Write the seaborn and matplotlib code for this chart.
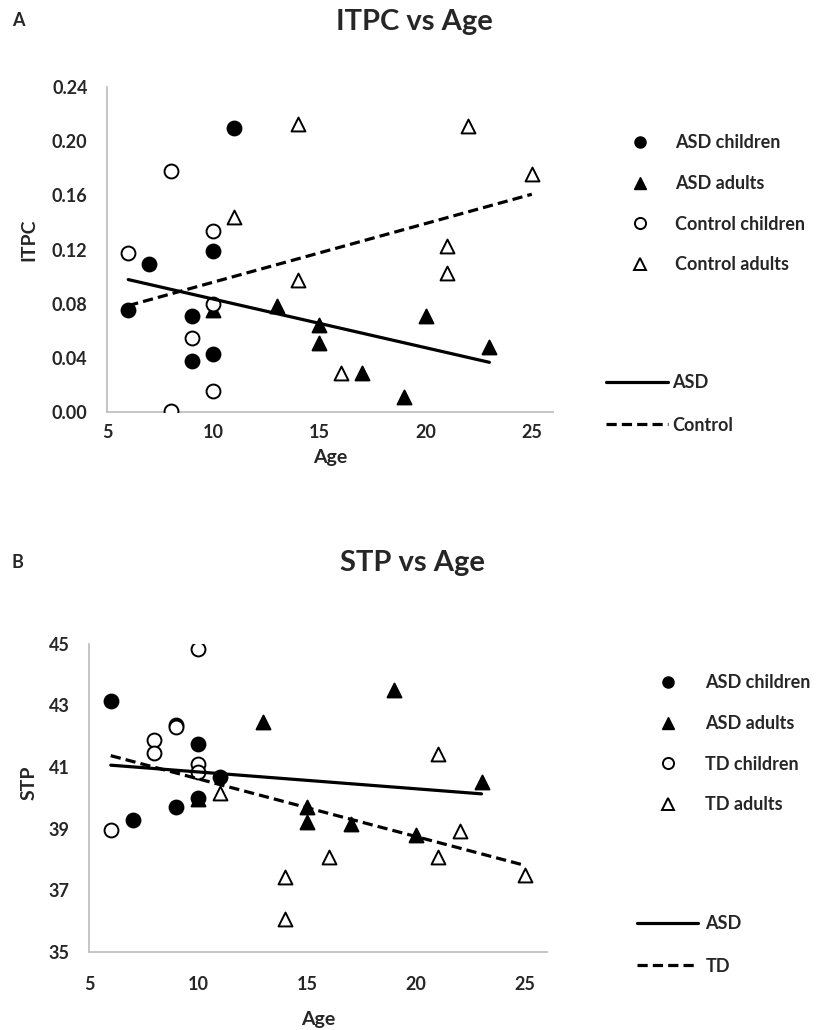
import numpy as np
import pandas as pd
import seaborn as sns
import matplotlib.pyplot as plt
from matplotlib.lines import Line2D

# ===============================
# DATA
# ===============================
# panel A - ITPC
itpc_asd_child_age = [6, 7, 9, 9, 10, 10, 11]
itpc_asd_child = [0.075, 0.109, 0.071, 0.038, 0.119, 0.043, 0.210]
itpc_asd_adult_age = [10, 13, 15, 15, 17, 19, 20, 23]
itpc_asd_adult = [0.0755, 0.078, 0.0644, 0.051, 0.029, 0.0113, 0.071, 0.048]
itpc_ctl_child_age = [6, 8, 8, 9, 10, 10, 10]
itpc_ctl_child = [0.1175, 0.178, 0.001, 0.055, 0.1335, 0.080, 0.0156]
itpc_ctl_adult_age = [11, 14, 14, 16, 21, 21, 22, 25]
itpc_ctl_adult = [0.144, 0.2126, 0.0978, 0.029, 0.1225, 0.1027, 0.211, 0.176]

# panel B - STP
stp_asd_child_age = [6, 7, 9, 9, 10, 10, 11]
stp_asd_child = [43.14, 39.28, 42.36, 39.69, 41.74, 40.0, 40.68]
stp_asd_adult_age = [10, 13, 15, 15, 17, 19, 20, 23]
stp_asd_adult = [39.95, 42.47, 39.69, 39.22, 39.15, 43.49, 38.79, 40.52]
stp_td_child_age = [6, 8, 8, 9, 10, 10, 10]
stp_td_child = [38.95, 41.87, 41.44, 42.3, 44.81, 41.08, 40.84]
stp_td_adult_age = [11, 14, 14, 16, 21, 21, 22, 25]
stp_td_adult = [40.16, 37.44, 36.07, 38.07, 41.41, 38.07, 38.93, 37.50]

itpc_labels = ["ASD children", "ASD adults", "Control children", "Control adults"]
stp_labels = ["ASD children", "ASD adults", "TD children", "TD adults"]

itpc_ticks = [0.00, 0.04, 0.08, 0.12, 0.16, 0.20, 0.24]
stp_ticks = [35, 37, 39, 41, 43, 45]
age_ticks = [5, 10, 15, 20, 25]

# ===============================
# STYLE
# ===============================
sns.set_theme(style="white")
plt.rcParams["font.family"] = ["Lato", "DejaVu Sans"]
plt.rcParams["font.weight"] = "bold"

DASH = (0, (3.2, 1.6))
GRAY = "#c0c0c0"
FS = 13

fig = plt.figure(figsize=(8.2, 10.3), dpi=100)
ax_a = fig.add_axes([0.1305, 0.600, 0.544, 0.3155])
ax_b = fig.add_axes([0.1085, 0.0757, 0.5585, 0.2995])


def draw_panel(ax, groups, fit_groups, ylim, yticks, yfmt):
    # groups: list of (age, value, marker, facecolor)
    for age, val, mk, fc in groups:
        sns.scatterplot(x=age, y=val, ax=ax, marker=mk, s=100,
                        facecolor=fc, edgecolor="black", linewidth=1.4,
                        zorder=3)
    for age, val, ls in fit_groups:
        sns.regplot(x=np.array(age, dtype=float), y=np.array(val, dtype=float),
                    ax=ax, scatter=False, ci=None, truncate=True, color="black",
                    line_kws=dict(lw=2.3, ls=ls, zorder=4))
    ax.set_xlim(5, 26)
    ax.set_ylim(*ylim)
    ax.set_xticks(age_ticks)
    ax.set_yticks(yticks)
    ax.set_yticklabels([yfmt.format(t) for t in yticks])
    for side in ["top", "right"]:
        ax.spines[side].set_visible(False)
    for side in ["left", "bottom"]:
        ax.spines[side].set_color(GRAY)
        ax.spines[side].set_linewidth(1.3)
    ax.tick_params(length=0, labelsize=FS)
    for t in ax.get_xticklabels() + ax.get_yticklabels():
        t.set_fontweight("bold")


# ===============================
# PANEL A
# ===============================
draw_panel(
    ax_a,
    [(itpc_asd_child_age, itpc_asd_child, "o", "black"),
     (itpc_asd_adult_age, itpc_asd_adult, "^", "black"),
     (itpc_ctl_child_age, itpc_ctl_child, "o", "white"),
     (itpc_ctl_adult_age, itpc_ctl_adult, "^", "white")],
    [(itpc_asd_child_age + itpc_asd_adult_age, itpc_asd_child + itpc_asd_adult, "-"),
     (itpc_ctl_child_age + itpc_ctl_adult_age, itpc_ctl_child + itpc_ctl_adult, DASH)],
    (0, 0.24), itpc_ticks, "{:.2f}")
ax_a.tick_params(axis="x", pad=9)
ax_a.tick_params(axis="y", pad=14)
ax_a.set_xlabel("Age", fontsize=14, fontweight="bold")
ax_a.set_ylabel("ITPC", fontsize=14, fontweight="bold")
ax_a.xaxis.set_label_coords(0.5, -0.113)
ax_a.yaxis.set_label_coords(-0.155, 0.53)

# ===============================
# PANEL B
# ===============================
draw_panel(
    ax_b,
    [(stp_asd_child_age, stp_asd_child, "o", "black"),
     (stp_asd_adult_age, stp_asd_adult, "^", "black"),
     (stp_td_child_age, stp_td_child, "o", "white"),
     (stp_td_adult_age, stp_td_adult, "^", "white")],
    [(stp_asd_child_age + stp_asd_adult_age, stp_asd_child + stp_asd_adult, "-"),
     (stp_td_child_age + stp_td_adult_age, stp_td_child + stp_td_adult, DASH)],
    (35, 45), stp_ticks, "{:d}")
ax_b.tick_params(axis="x", pad=17)
ax_b.tick_params(axis="y", pad=14)
ax_b.set_xlabel("Age", fontsize=14, fontweight="bold")
ax_b.set_ylabel("STP", fontsize=14, fontweight="bold")
ax_b.xaxis.set_label_coords(0.5, -0.19)
ax_b.yaxis.set_label_coords(-0.112, 0.55)

# ===============================
# LEGENDS
# ===============================
def marker_handles():
    return [Line2D([], [], ls="none", marker="o", ms=8, mfc="black", mec="black"),
            Line2D([], [], ls="none", marker="^", ms=8, mfc="black", mec="black"),
            Line2D([], [], ls="none", marker="o", ms=8, mfc="white", mec="black", mew=1.4),
            Line2D([], [], ls="none", marker="^", ms=8, mfc="white", mec="black", mew=1.4)]


def line_handles():
    return [Line2D([], [], color="black", lw=2.3, ls="-"),
            Line2D([], [], color="black", lw=2.3, ls=DASH)]


leg_kw = dict(frameon=False, borderpad=0, borderaxespad=0, loc="upper left",
              bbox_transform=fig.transFigure, prop={"weight": "bold", "size": FS})

fig.legend(marker_handles(), itpc_labels, bbox_to_anchor=(631 / 820, 1 - 134 / 1030),
           handlelength=1.0, handletextpad=1.44, labelspacing=1.32, **leg_kw)
fig.legend(line_handles(), ["ASD", "Control"], bbox_to_anchor=(606 / 820, 1 - 374 / 1030),
           handlelength=3.43, handletextpad=0.22, labelspacing=1.42, **leg_kw)
fig.legend(marker_handles(), stp_labels, bbox_to_anchor=(659 / 820, 1 - 674 / 1030),
           handlelength=1.0, handletextpad=1.55, labelspacing=1.32, **leg_kw)
fig.legend(line_handles(), ["ASD", "TD"], bbox_to_anchor=(637 / 820, 1 - 915 / 1030),
           handlelength=3.4, handletextpad=0.39, labelspacing=1.42, **leg_kw)

# ===============================
# TITLES
# ===============================
fig.text(0.505, 1 - 22 / 1030, "ITPC vs Age", ha="center", va="center",
         fontsize=21, fontweight="bold")
fig.text(0.503, 1 - 563 / 1030, "STP vs Age", ha="center", va="center",
         fontsize=21, fontweight="bold")
fig.text(12 / 820, 1 - 20 / 1030, "A", ha="left", va="center", fontsize=13, fontweight="bold")
fig.text(12 / 820, 1 - 563 / 1030, "B", ha="left", va="center", fontsize=13, fontweight="bold")

fig.savefig("out.png", dpi=100, facecolor="white")
